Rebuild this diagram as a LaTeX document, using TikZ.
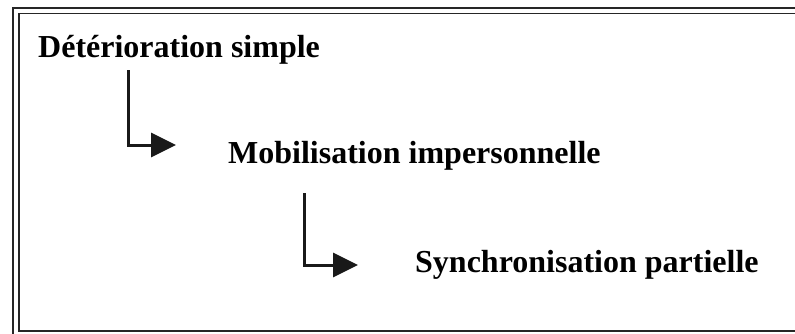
\documentclass[tikz,border=0pt]{standalone}
\usepackage{fontspec}
\setmainfont{Liberation Serif}
\usetikzlibrary{arrows.meta}
\begin{document}
\begin{tikzpicture}[x=1pt,y=-1pt,
  label/.style={font=\fontsize{32}{36}\selectfont\bfseries, anchor=base west, inner sep=0pt},
  frame/.style={line width=1.6pt, draw=black!85},
  link/.style={line width=3pt, draw=black!90, -{Triangle[length=25pt,width=24pt]}}]
  \useasboundingbox (0,0) rectangle (795,333);
  % double frame, open on the right
  \begin{scope}
    \clip (0,0) rectangle (795,333);
    \draw[frame] (796,8) -- (13,8) -- (13,340);
    \draw[frame] (796,13.5) -- (19,13.5) -- (19,331) -- (796,331);
  \end{scope}
  % stage labels
  \node[label] (s1) at (38,57) {Détérioration simple};
  \node[label] (s2) at (228,163) {Mobilisation impersonnelle};
  \node[label] (s3) at (415,272) {Synchronisation partielle};
  % elbow connectors
  \coordinate (c1) at (128,70);
  \coordinate (c2) at (304,193);
  \draw[link] (c1) |- ([xshift=-52pt]s2.west |- 0,145) coordinate (t1);
  \draw[link] (c2) |- ([xshift=-57pt]s3.west |- 0,265) coordinate (t2);
\end{tikzpicture}
\end{document}
